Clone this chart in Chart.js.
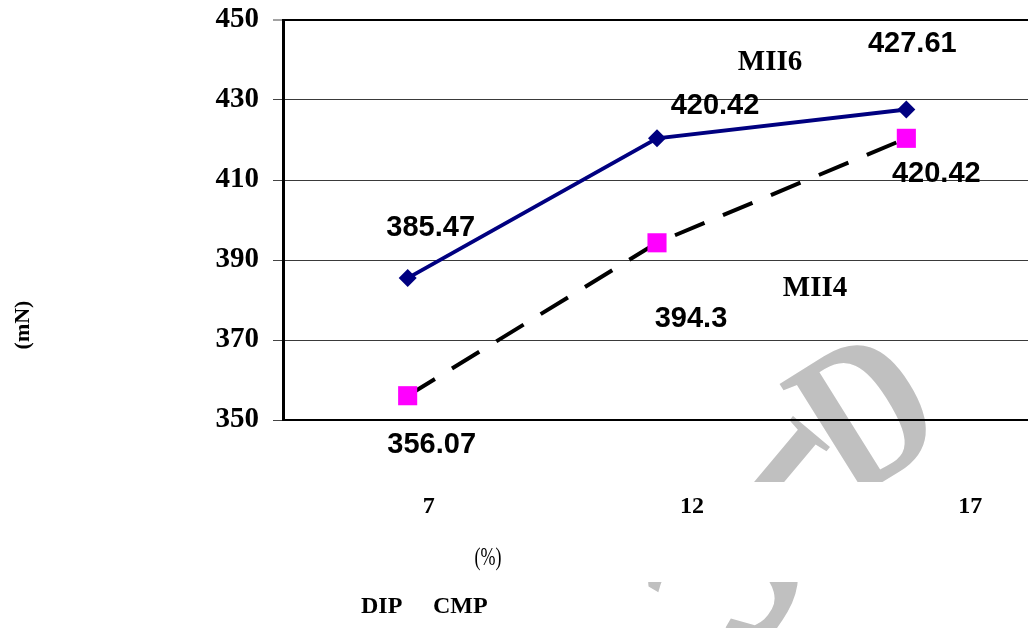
<!DOCTYPE html>
<html>
<head>
<meta charset="utf-8">
<script src="https://cdn.jsdelivr.net/npm/chart.js@4/dist/chart.umd.min.js"></script>
<style>
  html, body { margin: 0; padding: 0; background: #fff; overflow: hidden; }
  canvas { display: block; }
</style>
</head>
<body>
<canvas id="chart" width="1031" height="628"></canvas>
<script>
// Categories (%) and the two series (mN)
const categories = ['7', '12', '17'];
const mii6Values = [385.47, 420.42, 427.61];
const mii4Values = [356.07, 394.3, 420.42];
const seriesNames = ['MII6', 'MII4'];
const yMin = 350;
const yMax = 450;
const yStep = 20;

// Placement of the value labels relative to each point (px)
const valueLabelShift = [
  [[23, -50], [58, -32], [6, -66]],
  [[24, 49], [34, 76], [30, 36]]
];
// Horizontal shift of each category label from its tick (px)
const xTickShift = [21, 35, 64];

const SERIF = '"Liberation Serif", "Times New Roman", serif';
const SANS = '"Liberation Sans", Arial, sans-serif';

// Faint grey lettering behind the plot
const watermarkPlugin = {
  id: 'watermark',
  beforeDraw(chart) {
    const ctx = chart.ctx;
    ctx.save();
    ctx.fillStyle = '#fff';
    ctx.fillRect(0, 0, chart.width, chart.height);
    ctx.beginPath();
    ctx.rect(0, 0, chart.width, 482);
    ctx.rect(0, 582, chart.width, 100);
    ctx.clip();
    ctx.fillStyle = '#c0c0c0';
    ctx.textAlign = 'left';
    ctx.textBaseline = 'alphabetic';

    ctx.save();
    ctx.translate(850, 502);
    ctx.rotate(-32 * Math.PI / 180);
    ctx.scale(0.8, 1);
    ctx.font = 'bold 210px ' + SERIF;
    ctx.fillText('D', 0, 0);
    ctx.restore();

    // narrow stroke beside the letter
    ctx.save();
    ctx.translate(726, 488);
    ctx.rotate(40 * Math.PI / 180);
    ctx.font = 'bold 150px ' + SERIF;
    ctx.fillText('I', 0, 0);
    ctx.restore();

    ctx.save();
    ctx.translate(738, 570);
    ctx.rotate(120 * Math.PI / 180);
    ctx.font = 'bold 300px ' + SERIF;
    ctx.textAlign = 'center';
    ctx.textBaseline = 'middle';
    ctx.fillText('c', 0, 0);
    ctx.restore();

    ctx.restore();
  }
};

// Value labels, series names, category labels and axis captions
const textPlugin = {
  id: 'texts',
  afterDraw(chart) {
    const ctx = chart.ctx;
    const xs = chart.scales.x;
    const ys = chart.scales.y;
    ctx.save();
    ctx.fillStyle = '#000';

    // value labels
    ctx.font = 'bold 29px ' + SANS;
    ctx.textAlign = 'center';
    ctx.textBaseline = 'middle';
    chart.data.datasets.forEach((ds, di) => {
      const meta = chart.getDatasetMeta(di);
      meta.data.forEach((pt, i) => {
        const s = valueLabelShift[di][i];
        ctx.fillText(String(ds.data[i]), pt.x + s[0], pt.y + s[1]);
      });
    });

    // series names
    ctx.font = 'bold 29px ' + SERIF;
    ctx.fillText(seriesNames[0], xs.getPixelForValue(1) + 113, ys.getPixelForValue(439.3));
    ctx.fillText(seriesNames[1], xs.getPixelForValue(1) + 158, ys.getPixelForValue(382.8));

    // category labels
    ctx.font = 'bold 24px ' + SERIF;
    ctx.textBaseline = 'alphabetic';
    categories.forEach((c, i) => {
      ctx.fillText(c, xs.getPixelForTick(i) + xTickShift[i], 513);
    });

    // x caption
    ctx.save();
    ctx.translate(488, 565);
    ctx.scale(0.72, 1);
    ctx.font = '25px ' + SERIF;
    ctx.fillText('(%)', 0, 0);
    ctx.restore();

    // bottom caption
    ctx.font = 'bold 24px ' + SERIF;
    ctx.textAlign = 'left';
    ctx.fillText('DIP', 361, 613);
    ctx.fillText('CMP', 433, 613);

    // y caption
    ctx.save();
    ctx.translate(23, 325);
    ctx.rotate(-Math.PI / 2);
    ctx.textAlign = 'center';
    ctx.textBaseline = 'middle';
    ctx.font = 'bold 22px ' + SERIF;
    ctx.fillText('(mN)', 0, 0);
    ctx.restore();

    ctx.restore();
  }
};

new Chart(document.getElementById('chart'), {
  type: 'line',
  data: {
    labels: categories,
    datasets: [
      {
        label: seriesNames[0],
        data: mii6Values,
        borderColor: '#000080',
        backgroundColor: '#000080',
        borderWidth: 4,
        pointStyle: 'rectRot',
        pointRadius: 9,
        pointBorderWidth: 0,
        pointBackgroundColor: '#000080',
        tension: 0,
        clip: false
      },
      {
        label: seriesNames[1],
        data: mii4Values,
        borderColor: '#000000',
        backgroundColor: '#ff00ff',
        borderWidth: 4,
        borderDash: [32, 20],
        pointStyle: 'rect',
        pointRadius: 13.5,
        pointBorderWidth: 0,
        pointBackgroundColor: '#ff00ff',
        tension: 0,
        clip: false
      }
    ]
  },
  options: {
    responsive: false,
    animation: false,
    events: [],
    layout: { autoPadding: false, padding: { left: 0, right: 0, top: 20, bottom: 208 } },
    plugins: {
      legend: { display: false },
      tooltip: { enabled: false },
      title: { display: false }
    },
    scales: {
      x: {
        type: 'category',
        offset: true,
        grid: { display: false },
        border: { display: true, color: '#000', width: 2 },
        ticks: { display: false },
        afterFit(s) {
          s.height = 0;
          s.paddingLeft = 0; s.paddingRight = 0; s.paddingTop = 0; s.paddingBottom = 0;
        }
      },
      y: {
        min: yMin,
        max: yMax,
        ticks: {
          stepSize: yStep,
          padding: 14,
          color: '#000',
          font: { family: 'Liberation Serif', size: 29, weight: 'bold' }
        },
        grid: {
          color: (c) => (c.tick && c.tick.value === yMax ? '#000' : '#3a3a3a'),
          lineWidth: (c) => (c.tick && c.tick.value === yMax ? 2 : 1),
          tickLength: 10,
          tickColor: '#444',
          tickWidth: 1
        },
        border: { display: true, color: '#000', width: 3 },
        afterFit(s) {
          s.width = 283;
          s.paddingLeft = 0; s.paddingRight = 0; s.paddingTop = 0; s.paddingBottom = 0;
        }
      }
    }
  },
  plugins: [watermarkPlugin, textPlugin]
});
</script>
</body>
</html>
